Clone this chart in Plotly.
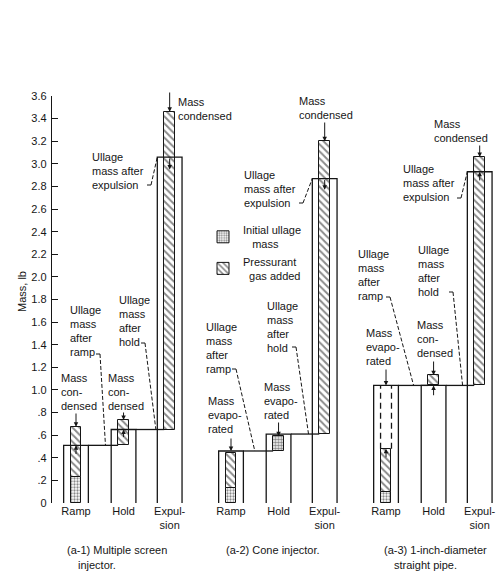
import plotly.graph_objects as go

# ---------------- data (mass, lb) ----------------
stages = ["Ramp", "Hold", "Expul-<br>sion"]
captions = [
    ["(a-1) Multiple screen", "injector."],
    ["(a-2) Cone injector."],
    ["(a-3) 1-inch-diameter", "straight pipe."],
]
initial_ullage = [0.23, 0.13, 0.10]      # initial ullage mass
ramp_peak = [0.675, 0.44, 0.48]          # initial ullage + pressurant added in ramp
ramp_ullage = [0.51, 0.46, 1.04]         # ullage mass after ramp
hold_peak = [0.735, 0.59, 1.13]          # top of hold increment
hold_ullage = [0.65, 0.61, 1.04]         # ullage mass after hold
expulsion_peak = [3.46, 3.20, 3.06]      # top of pressurant added in expulsion
expulsion_ullage = [3.06, 2.87, 2.93]    # ullage mass after expulsion
hold_fill = ["\\", ".", "\\"]
y_ticks = [0, 0.2, 0.4, 0.6, 0.8, 1.0, 1.2, 1.4, 1.6, 1.8, 2.0, 2.2, 2.4, 2.6,
           2.8, 3.0, 3.2, 3.4, 3.6]
y_tick_text = ["0", ".2", ".4", ".6", ".8", "1.0", "1.2", "1.4", "1.6", "1.8",
               "2.0", "2.2", "2.4", "2.6", "2.8", "3.0", "3.2", "3.4", "3.6"]

# ---------------- layout geometry ----------------
INK = "#161616"
FONT = "Liberation Sans, Arial, sans-serif"
W, H = 499, 574
M_L, M_R, M_T, M_B = 52, 0, 96, 71
PLOT_W = W - M_L - M_R
PLOT_H = H - M_T - M_B

PANEL_X = [0.0, 3.26, 6.52]
SLOT_X = [0.0, 1.0, 1.97]
OUTER_W = 0.52
INNER_W = 0.23

X_ORIGIN_PX, X_SCALE = 76.0, 47.55       # x = 0 sits at pixel 76
Y_ORIGIN_PX = H - M_B
Y_SCALE = PLOT_H / 3.6


def slot(p, s):
    return PANEL_X[p] + SLOT_X[s]


def dx(px):
    return (px - X_ORIGIN_PX) / X_SCALE


def dy(py):
    return (Y_ORIGIN_PX - py) / Y_SCALE


def paper_x(px):
    return (px - M_L) / PLOT_W


def paper_y(py):
    return (Y_ORIGIN_PX - py) / PLOT_H


fig = go.Figure()

hatch = dict(shape="\\", fgcolor=INK, bgcolor="white", size=5, solidity=0.4)
dots = dict(shape=".", fgcolor=INK, bgcolor="white", size=3, solidity=0.45)
bar_line = dict(color=INK, width=1)

ramp_x = [slot(p, 0) for p in range(3)]
hold_x = [slot(p, 1) for p in range(3)]
exp_x = [slot(p, 2) for p in range(3)]

# initial ullage mass (dotted)
fig.add_bar(
    name="Initial ullage<br>&nbsp;&nbsp;&nbsp;mass",
    x=ramp_x, base=[0, 0, 0], y=initial_ullage, width=INNER_W,
    marker=dict(color="white", line=bar_line, pattern=dots),
)
# pressurant gas added during ramp and expulsion (hatched)
fig.add_bar(
    name="Pressurant<br>&nbsp;&nbsp;gas added",
    x=ramp_x + exp_x,
    base=initial_ullage + hold_ullage,
    y=[ramp_peak[p] - initial_ullage[p] for p in range(3)]
      + [expulsion_peak[p] - hold_ullage[p] for p in range(3)],
    width=INNER_W,
    marker=dict(color="white", line=bar_line, pattern=hatch),
)
# hold increments
fig.add_bar(
    x=hold_x, base=ramp_ullage,
    y=[hold_peak[p] - ramp_ullage[p] for p in range(3)],
    width=INNER_W, showlegend=False,
    marker=dict(color="white", line=bar_line,
                pattern=dict(shape=hold_fill, fgcolor=INK, bgcolor="white",
                             size=[5, 3, 5], solidity=[0.4, 0.6, 0.4])),
)

# open outlines: ullage mass after each stage
ox, oy = [], []
tops = [ramp_ullage, hold_ullage, expulsion_ullage]
for p in range(3):
    for s in range(3):
        c = slot(p, s)
        l, r = c - OUTER_W / 2, c + OUTER_W / 2
        ox += [l, l, r, r, None]
        oy += [0, tops[s][p], tops[s][p], 0, None]
# level lines carried over to the next stage
for p in range(3):
    ox += [slot(p, 0) + OUTER_W / 2, slot(p, 1) - INNER_W / 2, None]
    oy += [ramp_ullage[p], ramp_ullage[p], None]
    ox += [slot(p, 1) + OUTER_W / 2, slot(p, 2) - INNER_W / 2, None]
    oy += [hold_ullage[p], hold_ullage[p], None]
fig.add_scatter(x=ox, y=oy, mode="lines", showlegend=False, hoverinfo="skip",
                line=dict(color=INK, width=1.3))

# dashed walls above the ramp bar of the straight pipe
px3 = slot(2, 0)
fig.add_scatter(
    x=[px3 - INNER_W / 2, px3 - INNER_W / 2, None, px3 + INNER_W / 2, px3 + INNER_W / 2],
    y=[ramp_peak[2], ramp_ullage[2], None, ramp_peak[2], ramp_ullage[2]],
    mode="lines", showlegend=False, hoverinfo="skip",
    line=dict(color=INK, width=1.3, dash="6px,4px"),
)

# leader lines from labels to the ullage levels
leaders = [
    # (hook x px, hook y px, target x, target y)
    (147, 185, slot(0, 2) - OUTER_W / 2, expulsion_ullage[0]),
    (141, 343, slot(0, 2) - OUTER_W / 2 - 0.03, hold_ullage[0]),
    (96, 354, slot(0, 0) + 0.62, ramp_ullage[0]),
    (299, 203, slot(1, 2) - OUTER_W / 2, expulsion_ullage[1]),
    (292, 347, slot(1, 2) - OUTER_W / 2 - 0.08, hold_ullage[1]),
    (232, 369, slot(1, 0) + 0.50, ramp_ullage[1]),
    (457, 198, slot(2, 2) - OUTER_W / 2, expulsion_ullage[2]),
    (449, 292, slot(2, 2) - OUTER_W / 2 - 0.1, hold_ullage[2]),
    (386, 297, slot(2, 0) + 0.58, ramp_ullage[2]),
]
hx, hy, lx, ly = [], [], [], []
for x0, y0, tx, ty in leaders:
    hx += [dx(x0), dx(x0 + 4), None]
    hy += [dy(y0), dy(y0), None]
    lx += [dx(x0 + 4), tx, None]
    ly += [dy(y0), ty, None]
fig.add_scatter(x=hx, y=hy, mode="lines", showlegend=False, hoverinfo="skip",
                line=dict(color=INK, width=1))
fig.add_scatter(x=lx, y=ly, mode="lines", showlegend=False, hoverinfo="skip",
                line=dict(color=INK, width=1, dash="4px,2px"))

annotations = []


def arrow(x, y_head, y_tail):
    annotations.append(dict(
        x=x, y=y_head, ax=x, ay=y_tail, xref="x", yref="y", axref="x", ayref="y",
        text="", showarrow=True, arrowhead=2, arrowsize=0.9, arrowwidth=1,
        arrowcolor=INK, standoff=0,
    ))


# mass condensed / evaporated markers
arrow(ramp_x[0], ramp_peak[0], dy(412))
arrow(ramp_x[0], ramp_ullage[0], ramp_ullage[0] - 0.09)
arrow(hold_x[0], hold_peak[0], dy(411))
arrow(hold_x[0], hold_ullage[0], hold_ullage[0] - 0.08)
arrow(exp_x[0], expulsion_peak[0], dy(91))
arrow(exp_x[0], expulsion_ullage[0] - 0.11, expulsion_ullage[0])
arrow(ramp_x[1], ramp_ullage[1], dy(437))
arrow(hold_x[1], hold_peak[1], dy(421))
arrow(exp_x[1], expulsion_peak[1], dy(121))
arrow(exp_x[1], expulsion_ullage[1] - 0.1, expulsion_ullage[1])
arrow(ramp_x[2], ramp_ullage[2], dy(368))
arrow(ramp_x[2], ramp_peak[2], ramp_peak[2] - 0.09)
arrow(hold_x[2], hold_peak[2], dy(360))
arrow(hold_x[2], ramp_ullage[2], ramp_ullage[2] - 0.1)
arrow(exp_x[2], expulsion_peak[2], dy(144))
arrow(exp_x[2], expulsion_ullage[2], expulsion_ullage[2] - 0.09)


def text_block(lines, left_px, first_py, step=14, size=11):
    for i, t in enumerate(lines):
        annotations.append(dict(
            x=paper_x(left_px), y=paper_y(first_py + i * step),
            xref="paper", yref="paper",
            text=t, showarrow=False, xanchor="left", yanchor="middle",
            borderpad=0, font=dict(family=FONT, size=size, color=INK),
        ))


ullage = ["Ullage", "mass", "after"]
# (a-1)
text_block(["Mass", "condensed"], 177, 102)
text_block(["Ullage", "mass after", "expulsion"], 91, 157)
text_block(ullage + ["hold"], 118, 300)
text_block(ullage + ["ramp"], 69, 310)
text_block(["Mass", "con-", "densed"], 60, 378)
text_block(["Mass", "con-", "densed"], 107, 378)
# (a-2)
text_block(["Mass", "condensed"], 298, 101)
text_block(["Ullage", "mass after", "expulsion"], 243, 175)
text_block(ullage + ["hold"], 266, 306)
text_block(ullage + ["ramp"], 205, 327)
text_block(["Mass", "evapo-", "rated"], 207, 401)
text_block(["Mass", "evapo-", "rated"], 263, 387)
# (a-3)
text_block(["Mass", "condensed"], 433, 124)
text_block(["Ullage", "mass after", "expulsion"], 402, 169)
text_block(ullage + ["hold"], 417, 250)
text_block(ullage + ["ramp"], 357, 254)
text_block(["Mass", "evapo-", "rated"], 365, 333)
text_block(["Mass", "con-", "densed"], 416, 325)

# panel captions
cap_pos = [(66, 77), (225, None), (383, 393)]
for p in range(3):
    text_block([captions[p][0]], cap_pos[p][0], 550)
    if len(captions[p]) > 1:
        text_block([captions[p][1]], cap_pos[p][1], 565)

# y-axis title
annotations.append(dict(
    x=paper_x(22), y=paper_y(292), xref="paper", yref="paper",
    text="Mass, lb", textangle=-90, showarrow=False, xanchor="center", yanchor="middle",
    font=dict(family=FONT, size=11, color=INK),
))

fig.update_layout(
    width=W, height=H,
    margin=dict(l=M_L, r=M_R, t=M_T, b=M_B, pad=0),
    paper_bgcolor="white", plot_bgcolor="white",
    barmode="overlay", bargap=0,
    font=dict(family=FONT, size=11, color=INK),
    showlegend=True,
    legend=dict(
        x=paper_x(203), y=paper_y(216),
        xanchor="left", yanchor="top", bgcolor="rgba(0,0,0,0)",
        itemwidth=30, font=dict(family=FONT, size=11, color=INK),
        traceorder="normal", tracegroupgap=0,
    ),
    annotations=annotations,
    xaxis=dict(
        range=[dx(M_L), dx(W - M_R)], showgrid=False, zeroline=False,
        showline=False, ticks="",
        tickvals=[slot(p, s) for p in range(3) for s in range(3)],
        ticktext=stages * 3,
        tickfont=dict(family=FONT, size=11, color=INK),
        fixedrange=True,
    ),
    yaxis=dict(
        range=[0, 3.6], showgrid=False, zeroline=False,
        showline=True, linecolor=INK, linewidth=1.3,
        ticks="inside", ticklen=6, tickwidth=1, tickcolor=INK,
        tickvals=y_ticks, ticktext=y_tick_text,
        tickfont=dict(family=FONT, size=11, color=INK),
        ticklabelstandoff=2, fixedrange=True,
    ),
)

fig.write_html("out.html")
